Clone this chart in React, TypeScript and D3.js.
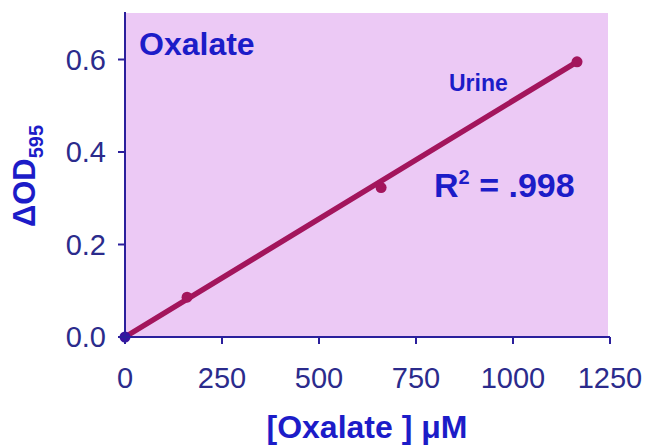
import React from 'react';
import * as d3 from 'd3';

// standard curve points
const conc = [0, 160, 660, 1165];
const od = [0, 0.086, 0.323, 0.595];

// fitted line ends
const fitX = [0, 1165];
const fitY = [0, 0.595];

const xTicks = [0, 250, 500, 750, 1000, 1250];
const yTicks = [0, 0.2, 0.4, 0.6];

const App: React.FC = () => {
  const width = 650;
  const height = 445;
  const left = 125;
  const right = 610;
  const top = 13;
  const bottom = 337;

  const x = d3.scaleLinear().domain([0, 1250]).range([left, right]);
  const y = d3.scaleLinear().domain([0, 0.7]).range([bottom, bottom - 0.7 * 462.5]);

  const line = d3.line<number>()
    .x((d, i) => x(fitX[i]))
    .y(d => y(d));

  const axisCol = '#2b1f9c';
  const tickCol = '#2b2b8c';
  const textCol = '#1c1cc8';
  const lineCol = '#a3155c';
  const font = 'Liberation Sans, Arial, sans-serif';

  return (
    <svg width={width} height={height} style={{ position: 'absolute', left: 0, top: 0 }}>
      <rect x={0} y={0} width={width} height={height} fill="#ffffff" />
      <rect x={left} y={top} width={608 - left} height={bottom - top} fill="#ecc9f5" />

      {/* fitted line */}
      <path d={line(fitY) || ''} fill="none" stroke={lineCol} strokeWidth={5.5} strokeLinecap="round" />

      {/* points */}
      {conc.map((c, i) => (
        <circle key={i} cx={x(c)} cy={y(od[i])} r={5.5}
          fill={i === 0 ? '#3a12a0' : lineCol} />
      ))}

      {/* axes */}
      <line x1={left} x2={left} y1={top - 1} y2={bottom + 7} stroke={axisCol} strokeWidth={2} />
      <line x1={left - 7} x2={x(1250)} y1={bottom} y2={bottom} stroke={axisCol} strokeWidth={2} />

      {yTicks.map(t => (
        <g key={t}>
          <line x1={left - 7} x2={left} y1={y(t)} y2={y(t)} stroke={axisCol} strokeWidth={2} />
          <text x={left - 19} y={y(t)} dy="0.36em" textAnchor="end"
            fontFamily={font} fontSize={29} fill={tickCol}>{t.toFixed(1)}</text>
        </g>
      ))}
      {xTicks.map(t => (
        <g key={t}>
          <line x1={x(t)} x2={x(t)} y1={bottom} y2={bottom + 7} stroke={axisCol} strokeWidth={2} />
          <text x={x(t)} y={388} textAnchor="middle"
            fontFamily={font} fontSize={29} fill={tickCol}>{t}</text>
        </g>
      ))}

      {/* titles */}
      <text x={139} y={55} fontFamily={font} fontWeight="bold" fontSize={32} fill={textCol}>Oxalate</text>
      <text x={449} y={91} fontFamily={font} fontWeight="bold" fontSize={23} fill={textCol}>Urine</text>
      <text x={434} y={197} fontFamily={font} fontWeight="bold" fontSize={34} fill={textCol}>
        R<tspan dy={-13} fontSize={20}>2</tspan><tspan dy={13}> = .998</tspan>
      </text>

      <text x={367} y={438} textAnchor="middle" fontFamily={font} fontWeight="bold" fontSize={32} fill={textCol}>
        [Oxalate ] μM
      </text>

      <text transform="translate(35,176) rotate(-90)" textAnchor="middle"
        fontFamily={font} fontWeight="bold" fontSize={31} fill={textCol}>
        ΔOD<tspan dy={8} fontSize={20}>595</tspan>
      </text>
    </svg>
  );
};

export default App;
